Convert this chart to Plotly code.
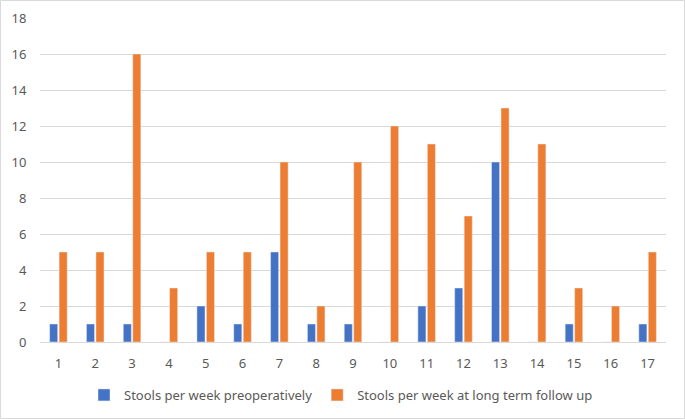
import plotly.graph_objects as go

patients = [str(i) for i in range(1, 18)]
stools_preop = [1, 1, 1, 0, 2, 1, 5, 1, 1, 0, 2, 3, 10, 0, 1, 0, 1]
stools_followup = [5, 5, 16, 3, 5, 5, 10, 2, 10, 12, 11, 7, 13, 11, 3, 2, 5]
y_ticks = list(range(0, 19, 2))

BLUE = "#4472C4"
ORANGE = "#ED7D31"
GRID = "#d9d9d9"
TEXT = "#595959"

fig = go.Figure()
fig.add_trace(go.Bar(x=patients, y=stools_preop, name="Stools per week preoperatively",
                     marker=dict(color=BLUE)))
fig.add_trace(go.Bar(x=patients, y=stools_followup, name="Stools per week at long term follow up",
                     marker=dict(color=ORANGE)))

# plot area: 40..666 px wide, 18..342 px tall
pw, ph = 626, 324
fig.add_shape(type="rect", xref="paper", yref="paper",
              x0=-39.5 / pw, x1=1 + 18.5 / pw, y0=-76.5 / ph, y1=1 + 17.5 / ph,
              line=dict(color=GRID, width=1), layer="below")

fig.update_layout(
    width=685, height=419,
    margin=dict(l=40, r=19, t=18, b=77, autoexpand=False),
    paper_bgcolor="white", plot_bgcolor="white",
    barmode="group", bargap=0.485, bargroupgap=0.15,
    font=dict(family="Noto Sans", size=13, color=TEXT),
    showlegend=True,
    legend=dict(orientation="h", x=(341 - 40) / pw, xanchor="center",
                yref="container", y=(419 - 395) / 419, yanchor="middle",
                font=dict(size=13, color=TEXT), itemwidth=30, traceorder="normal"),
    xaxis=dict(showgrid=False, showline=False, ticks="outside", ticklen=9,
               tickcolor="rgba(0,0,0,0)", tickfont=dict(size=13, color=TEXT),
               automargin=False),
    yaxis=dict(range=[0, 18], tickvals=y_ticks, showgrid=True, gridcolor=GRID,
               gridwidth=1, zeroline=True, zerolinecolor=GRID, zerolinewidth=1,
               showline=False, ticks="outside", ticklen=10,
               tickcolor="rgba(0,0,0,0)", tickfont=dict(size=13, color=TEXT),
               automargin=False),
)

# drop the default page margin so the figure sits at the window's corner
fig.write_html("out.html", config={"displayModeBar": False},
               post_script="document.body.style.margin='0';")
